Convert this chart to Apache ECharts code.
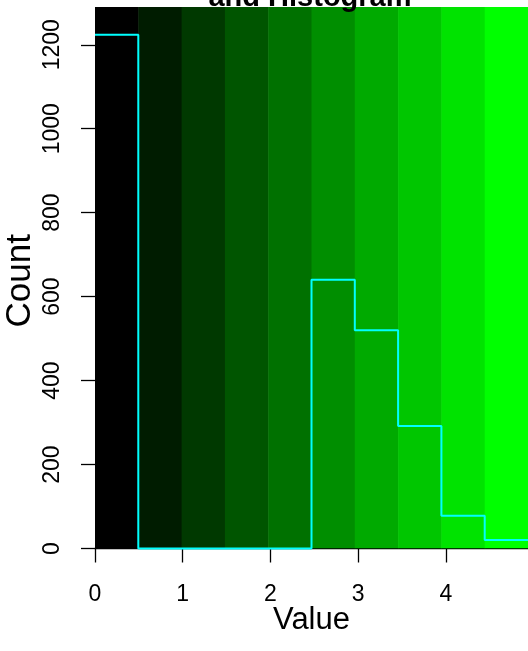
<!DOCTYPE html>
<html>
<head>
<meta charset="utf-8">
<script src="https://cdn.jsdelivr.net/npm/echarts@6/dist/echarts.min.js"></script>
<style>
html,body{margin:0;padding:0;background:#fff;}
#chart{width:528px;height:651px;}
</style>
</head>
<body>
<div id="chart"></div>
<script>
// Colour-key bin edges (Value) and colours
var breaks = [0, 0.4935, 0.987, 1.4805, 1.974, 2.4675, 2.961, 3.4545, 3.948, 4.4415, 4.935];
var binColors = ['#000000', '#001C00', '#003900', '#005500', '#007100', '#008E00', '#00AA00', '#00C600', '#00E300', '#00FF00'];
// Histogram counts per bin
var counts = [1224, 0, 0, 0, 0, 640, 520, 292, 78, 20];
// Tick labels
var xTicks = [0, 1, 2, 3, 4];
var yTicks = [0, 200, 400, 600, 800, 1000, 1200];
var yMax = 1290;

var FONT = 'Liberation Sans, Arial, Helvetica, sans-serif';

var binData = [];
for (var i = 0; i < binColors.length; i++) {
  binData.push([breaks[i], breaks[i + 1], i]);
}
var stepData = [];
for (var j = 0; j < counts.length; j++) {
  stepData.push([breaks[j], counts[j]]);
}
stepData.push([breaks[breaks.length - 1], counts[counts.length - 1]]);

var chart = echarts.init(document.getElementById('chart'), null, {renderer: 'canvas'});
chart.setOption({
  animation: false,
  backgroundColor: '#ffffff',
  grid: {left: 95, right: 0, top: 7, bottom: 102.5, containLabel: false, outerBoundsMode: 'none'},
  graphic: [{
    type: 'text',
    x: 310, y: -2,
    style: {
      text: 'and Histogram',
      font: 'bold 29px ' + FONT,
      fill: '#000',
      textAlign: 'center',
      textVerticalAlign: 'middle'
    },
    z: 100
  }],
  xAxis: {
    type: 'value',
    min: 0,
    max: breaks[breaks.length - 1],
    splitLine: {show: false},
    axisLine: {show: true, onZero: false, lineStyle: {color: '#000', width: 1.3}},
    axisTick: {show: true, inside: false, length: 14, customValues: xTicks, lineStyle: {color: '#000', width: 1.3}},
    axisLabel: {show: true, customValues: xTicks, margin: 35, color: '#000', fontSize: 23, fontFamily: FONT,
      formatter: function (v) { return String(v); }},
    name: 'Value',
    nameLocation: 'middle',
    nameGap: 56,
    nameMoveOverlap: false,
    nameTextStyle: {color: '#000', fontSize: 31, fontFamily: FONT}
  },
  yAxis: {
    type: 'value',
    min: 0,
    max: yMax,
    splitLine: {show: false},
    axisLine: {show: false},
    axisTick: {show: true, inside: false, length: 14, customValues: yTicks, lineStyle: {color: '#000', width: 1.3}},
    axisLabel: {show: true, customValues: yTicks, rotate: 90, margin: 31, color: '#000', fontSize: 23, fontFamily: FONT,
      formatter: function (v) { return String(v); }},
    name: 'Count',
    nameLocation: 'middle',
    nameGap: 57,
    nameMoveOverlap: false,
    nameTextStyle: {color: '#000', fontSize: 35, fontFamily: FONT, padding: [0, 6, 0, 0]}
  },
  series: [{
    type: 'custom',
    data: binData,
    clip: true,
    renderItem: function (params, api) {
      var p0 = api.coord([api.value(0), yMax]);
      var p1 = api.coord([api.value(1), 0]);
      return {
        type: 'rect',
        shape: {x: p0[0], y: p0[1], width: p1[0] - p0[0] + 0.5, height: p1[1] - p0[1]},
        style: {fill: binColors[api.value(2)]}
      };
    },
    z: 1
  }, {
    type: 'line',
    data: stepData,
    step: 'end',
    symbol: 'none',
    clip: false,
    lineStyle: {color: '#00FFFF', width: 2},
    z: 5
  }]
});
</script>
</body>
</html>
